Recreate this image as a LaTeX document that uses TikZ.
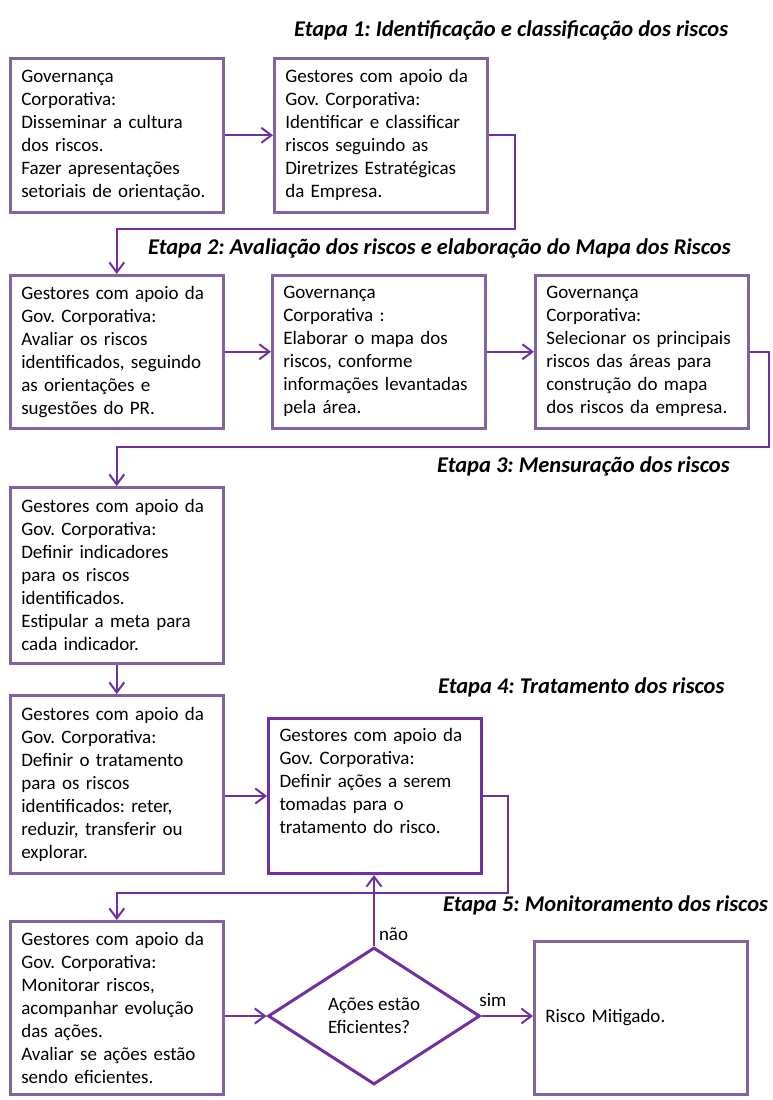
\documentclass[tikz,border=0pt]{standalone}
\usepackage{fontspec}
\setmainfont{Carlito}
\usetikzlibrary{arrows.meta,shapes.geometric}
\frenchspacing

\definecolor{boxline}{RGB}{128,100,162}
\definecolor{flowline}{RGB}{112,48,160}
\newcommand{\boxtext}{\fontsize{19}{23}\selectfont}
\newcommand{\etapafont}{\fontsize{22.5}{26}\selectfont\bfseries\itshape}

\tikzset{
	stage/.style={draw=boxline, line width=2.6pt, anchor=north west, align=left,
		text width=191pt, inner xsep=11pt, inner ysep=0pt, font=\boxtext},
	flow/.style={draw=flowline, line width=2pt, -{Straight Barb[length=10pt,width=15pt]}},
	heading/.style={anchor=west, inner sep=0pt, font=\etapafont},
	answer/.style={font=\boxtext, inner sep=4pt}
}

\begin{document}
\begin{tikzpicture}[x=1pt,y=-1pt]
	\useasboundingbox (0,0) rectangle (772,1100);

	% titulos das etapas
	\foreach \n/\x/\y/\t in {1/294/30/Etapa 1: Identificação e classificação dos riscos,
		2/148/248/Etapa 2: Avaliação dos riscos e elaboração do Mapa dos Riscos,
		3/437/466/Etapa 3: Mensuração dos riscos,
		4/438/687/Etapa 4: Tratamento dos riscos,
		5/443/905/Etapa 5: Monitoramento dos riscos}
	{
		\node[heading] (etapa\n) at (\x,\y) {\t};
	}

	% etapa 1
	\node[stage, minimum height=154] (cultura) at (9,57) {Governança\\Corporativa:\\Disseminar a cultura\\dos riscos.\\Fazer apresentações\\setoriais de orientação.};
	\node[stage, minimum height=154] (identificar) at (273,57) {Gestores com apoio da\\Gov. Corporativa:\\Identificar e classificar\\riscos seguindo as\\Diretrizes Estratégicas\\da Empresa.};

	% etapa 2
	\node[stage, minimum height=153] (avaliar) at (9,274) {Gestores com apoio da\\Gov. Corporativa:\\Avaliar os riscos\\identificados, seguindo\\as orientações e\\sugestões do PR.};
	\node[stage, minimum height=153] (elaborar) at (271,274) {Governança\\Corporativa :\\Elaborar o mapa dos\\riscos, conforme\\informações levantadas\\pela área.};
	\node[stage, minimum height=153] (selecionar) at (534,274) {Governança\\Corporativa:\\Selecionar os principais\\riscos das áreas para\\construção do mapa\\dos riscos da empresa.};

	% etapa 3
	\node[stage, minimum height=176] (indicadores) at (9,486) {Gestores com apoio da\\Gov. Corporativa:\\Definir indicadores\\para os riscos\\identificados.\\Estipular a meta para\\cada indicador.};

	% etapa 4
	\node[stage, minimum height=178] (tratamento) at (9,694) {Gestores com apoio da\\Gov. Corporativa:\\Definir o tratamento\\para os riscos\\identificados: reter,\\reduzir, transferir ou\\explorar.};
	\node[stage, draw=flowline, line width=3pt, minimum height=155] (acoes) at (267,717) {Gestores com apoio da\\Gov. Corporativa:\\Definir ações a serem\\tomadas para o\\tratamento do risco.\\\strut};

	% etapa 5
	\node[stage, minimum height=173] (monitorar) at (9,920) {Gestores com apoio da\\Gov. Corporativa:\\Monitorar riscos,\\acompanhar evolução\\das ações.\\Avaliar se ações estão\\sendo eficientes.};
	\node[diamond, draw=flowline, line width=3pt, aspect=1.55, inner sep=1pt, minimum width=212, minimum height=137, align=left, font=\boxtext] (eficientes) at (374,1016) {Ações estão\\Eficientes?};
	\node[stage, minimum height=153] (mitigado) at (533,940) {Risco Mitigado.};

	\coordinate (volta1) at (515,229);
	\coordinate (volta2) at (769,447);
	\coordinate (volta3) at (508,893);

	% ligacoes
	\draw[flow] (cultura) -- (identificar);
	\draw[flow] (identificar.east) -| (volta1) -| (avaliar.north);
	\draw[flow] (avaliar) -- (elaborar);
	\draw[flow] (elaborar) -- (selecionar);
	\draw[flow] (selecionar.east) -| (volta2) -| (indicadores.north);
	\draw[flow] (indicadores) -- (tratamento);
	\draw[flow] (tratamento.east |- acoes.west) -- (acoes.west);
	\draw[flow] (acoes.east) -| (volta3) -| (monitorar.north);
	\draw[flow] (monitorar.east |- eficientes.west) -- (eficientes.west);
	\draw[flow] (eficientes.north) -- node[answer, pos=.16, right] (nao) {não} (eficientes.north |- acoes.south);
	\draw[flow] (eficientes.east) -- node[answer, pos=.22, above, yshift=4pt] (sim) {sim} (eficientes.east -| mitigado.west);

\end{tikzpicture}
\end{document}
